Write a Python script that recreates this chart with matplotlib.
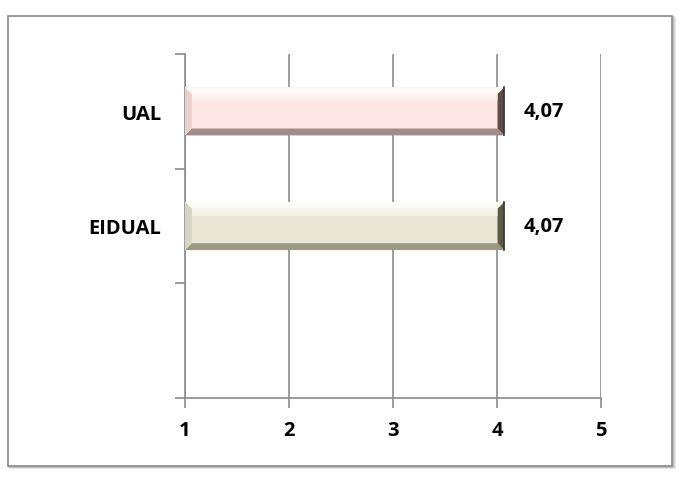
import matplotlib
matplotlib.use("Agg")
import matplotlib.pyplot as plt
import matplotlib.patches as patches

# data
categories = ["", "EIDUAL", "UAL"]
values = [None, 4.07, 4.07]
value_labels = ["", "4,07", "4,07"]
x_ticks = [1, 2, 3, 4, 5]

FACES = [None, "#ebe7d6", "#fde5e3"]
DARKS = [None, "#5e5a4a", "#5e4c4c"]
MIDS = [None, "#9c9886", "#a08c8b"]
SIDES = [None, "#d8d4c2", "#e8d0ce"]
GRID = "#8c8c8c"
BLUE = "#1f5fa8"
FONT = "Open Sans"
FS = 14.5

W, H = 679, 481
fig = plt.figure(figsize=(W / 100, H / 100), dpi=100)
fig.patch.set_facecolor("white")

# outer frame with a soft shadow (behind the axes)
for i, c in enumerate(["#e4e4e4", "#d0d0d0", "#bcbcbc"]):
    off = (3 - i) / W
    fig.add_artist(patches.Rectangle((8 / W + off, 1 - 467 / H - off), 664 / W, 450 / H,
                                     transform=fig.transFigure, facecolor="none",
                                     edgecolor=c, linewidth=1.2, zorder=-10))
fig.add_artist(patches.Rectangle((8 / W, 1 - 467 / H), 664 / W, 450 / H,
                                 transform=fig.transFigure, facecolor="white",
                                 edgecolor="#8a8a8a", linewidth=1.2, zorder=-9))

# fragment of the clipped title
fig.text(123 / W, 1 + 6 / H, "p", color=BLUE, fontsize=14, fontweight="bold",
         family=FONT, ha="center", va="baseline")

ax = fig.add_axes([185 / W, 1 - 399 / H, 416 / W, 344 / H])
ax.set_facecolor("none")
ax.set_xlim(1, 5)
ax.set_ylim(-0.5, len(categories) - 0.5)

ypos = list(range(len(categories)))
bh = 0.42
for y, v, face, dark, mid, side in zip(ypos, values, FACES, DARKS, MIDS, SIDES):
    if v is None:
        continue
    bar = ax.barh(y, v - 1, left=1, height=bh, color=face, edgecolor="none", zorder=3)[0]
    x0, y0 = bar.get_x(), bar.get_y()
    x1, y1 = x0 + bar.get_width(), y0 + bar.get_height()
    bx, by = 0.065, 0.06
    # bevel facets
    ax.add_patch(patches.Polygon([(x0, y1), (x1, y1), (x1 - bx, y1 - by), (x0 + bx, y1 - by)],
                                 facecolor="#fbfaf6", edgecolor="none", zorder=4))
    ax.add_patch(patches.Polygon([(x0, y0), (x1, y0), (x1 - bx, y0 + by), (x0 + bx, y0 + by)],
                                 facecolor=mid, edgecolor="none", zorder=4))
    ax.add_patch(patches.Polygon([(x0, y0), (x0, y1), (x0 + bx, y1 - by), (x0 + bx, y0 + by)],
                                 facecolor=side, edgecolor="none", zorder=4))
    ax.add_patch(patches.Polygon([(x1, y0), (x1, y1), (x1 - bx, y1 - by), (x1 - bx, y0 + by)],
                                 facecolor=dark, edgecolor="none", zorder=4))
    # soft highlight on the face
    ax.add_patch(patches.Rectangle((x0 + bx, y1 - by - 0.06), (x1 - x0) - 2 * bx, 0.06,
                                   facecolor="white", edgecolor="none", alpha=0.45, zorder=4))
    ax.plot([x1, x1], [y0, y1], color="#3c3434", lw=1.2, zorder=5)

for y, v, lab in zip(ypos, values, value_labels):
    if v is None:
        continue
    ax.text(v + 0.19, y, lab, ha="left", va="center", fontsize=FS,
            fontweight="bold", family=FONT, color="black")

ax.set_yticks([-0.5, 0.5, 1.5, 2.5])
ax.set_yticklabels([])
ax.set_yticks(ypos, minor=True)
ax.set_yticklabels(categories, minor=True, fontsize=FS, fontweight="bold", family=FONT)
ax.tick_params(axis="y", which="minor", length=0, pad=17)
ax.tick_params(axis="y", which="major", length=7, color=GRID, width=1.2)

ax.set_xticks(x_ticks)
ax.set_xticklabels([str(t) for t in x_ticks], fontsize=FS, fontweight="bold", family=FONT)
ax.tick_params(axis="x", length=7, color=GRID, width=1.2, pad=9)

ax.grid(axis="x", color=GRID, lw=1.2, zorder=0)
ax.set_axisbelow(True)
for s in ["top", "right"]:
    ax.spines[s].set_visible(False)
for s in ["left", "bottom"]:
    ax.spines[s].set_color(GRID)
    ax.spines[s].set_linewidth(1.2)

fig.savefig("out.png", dpi=100)
